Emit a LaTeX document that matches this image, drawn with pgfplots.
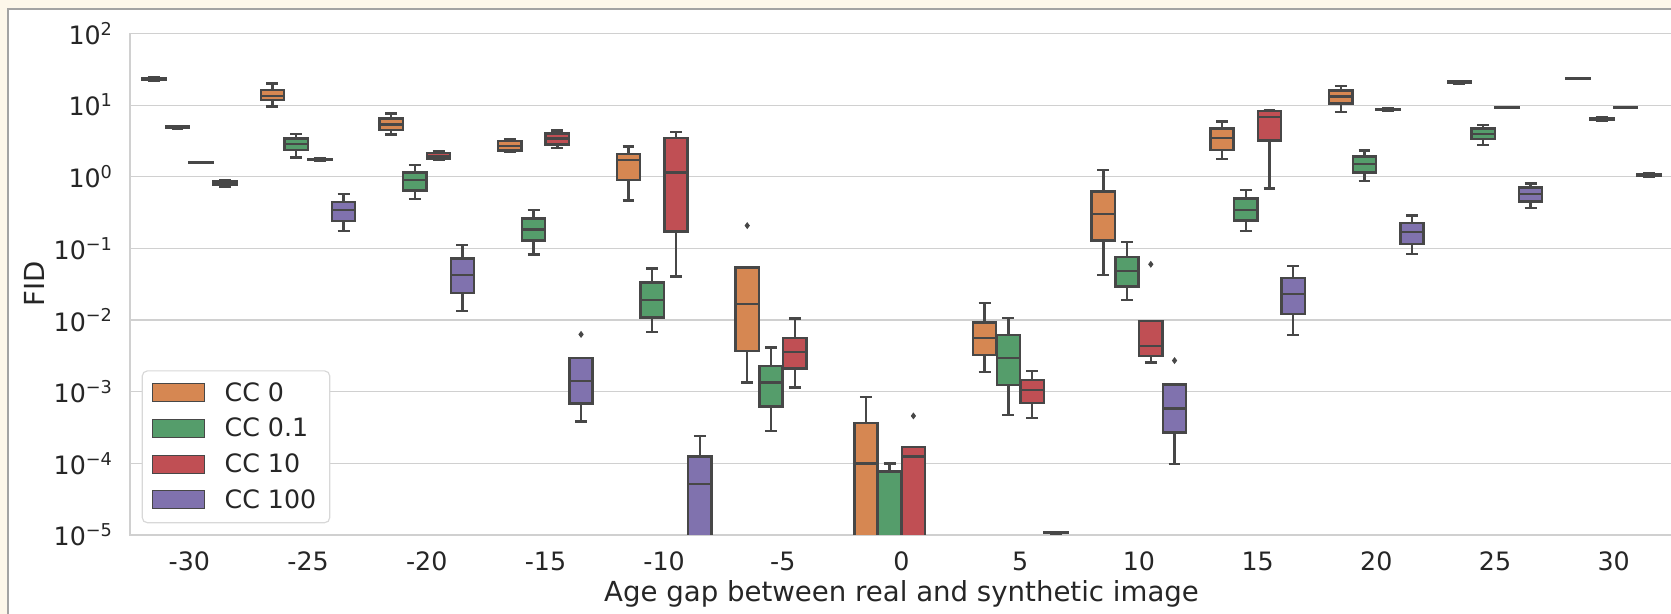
\documentclass[border=0pt]{standalone}
\usepackage{fontspec}
\setmainfont{DejaVu Sans}
\usepackage{pgfplots}
\pgfplotsset{compat=1.18}

\definecolor{cO}{HTML}{D68752}
\definecolor{cG}{HTML}{559D6B}
\definecolor{cR}{HTML}{C04F54}
\definecolor{cP}{HTML}{8072AE}
\definecolor{linec}{HTML}{474747}
\definecolor{gridc}{HTML}{D0D0D0}
\definecolor{textc}{HTML}{262626}
\definecolor{cream}{HTML}{FDF7EA}
\definecolor{framec}{HTML}{A3A3A3}
\definecolor{legc}{HTML}{D8D8D8}

\pgfplotsset{whisk/.style={draw=linec, line width=1.05pt, forget plot, line join=miter}}

% #1 position, #2 colour, #3 lower whisker, #4 Q1, #5 median, #6 Q3, #7 upper whisker
\newcommand{\bx}[7]{%
  \pgfmathsetmacro{\xa}{#1-0.098}%
  \pgfmathsetmacro{\xb}{#1+0.098}%
  \pgfmathsetmacro{\ca}{#1-0.05}%
  \pgfmathsetmacro{\cb}{#1+0.05}%
  \addplot[whisk] coordinates {(#1,#3) (#1,#4)};
  \addplot[whisk] coordinates {(#1,#6) (#1,#7)};
  \addplot[whisk] coordinates {(\ca,#3) (\cb,#3)};
  \addplot[whisk] coordinates {(\ca,#7) (\cb,#7)};
  \addplot[whisk, fill=#2] coordinates {(\xa,#4) (\xb,#4) (\xb,#6) (\xa,#6)} -- cycle;
  \addplot[whisk] coordinates {(\xa,#5) (\xb,#5)};
}
\newcommand{\fl}[2]{%
  \addplot[only marks, mark=diamond*, mark size=1.2pt, color=linec, forget plot] coordinates {(#1,#2)};
}

\begin{document}
\begin{tikzpicture}
\useasboundingbox (-56.52pt,-34.35pt) rectangle (670.0pt,232.6pt);
\clip (-56.52pt,-34.35pt) rectangle (670.0pt,232.6pt);
\fill[cream] (-56.52pt,-34.35pt) rectangle (670.0pt,232.6pt);
\fill[white] (-52.9pt,-40pt) rectangle (680pt,228.6pt);
\draw[framec, line width=0.87pt] (-52.9pt,-40pt) -- (-52.9pt,228.6pt) -- (680pt,228.6pt);
\begin{axis}[
  at={(0pt,0pt)}, anchor=south west,
  scale only axis, width=670.9pt, height=218.05pt,
  xmin=-0.5, xmax=12.5,
  ymode=log, ymin=1e-5, ymax=1e2,
  xtick={0,...,12},
  xticklabels={-30,-25,-20,-15,-10,-5,0,5,10,15,20,25,30},
  ytick={1e-5,1e-4,1e-3,1e-2,1e-1,1,10,100},
  yticklabels={10\textsuperscript{−5},10\textsuperscript{−4},10\textsuperscript{−3},10\textsuperscript{−2},10\textsuperscript{−1},10\textsuperscript{0},10\textsuperscript{1},10\textsuperscript{2}},
  minor ytick={},
  major tick length=0pt, minor tick length=0pt,
  ymajorgrids=true, yminorgrids=false, xmajorgrids=false,
  grid style={draw=gridc, line width=0.5pt},
  axis line style={draw=gridc, line width=0.6pt},
  tick label style={font=\fontsize{11}{13}\selectfont, text=textc},
  xticklabel style={anchor=north, inner sep=0pt, yshift=-7.26pt},
  yticklabel style={anchor=east, inner sep=0pt, xshift=-7.13pt},
  label style={font=\fontsize{12}{14}\selectfont, text=textc},
  xlabel={Age gap between real and synthetic image},
  xlabel style={at={(axis description cs:0.5,0)}, anchor=north, inner sep=0pt, yshift=-19.6pt},
  ylabel={FID},
  ylabel style={at={(axis description cs:-0.0551,0.5)}, anchor=south, inner sep=0pt},
  legend cell align=left,
  legend style={
    at={(0.00758,0.0233)}, anchor=south west,
    draw=legc, line width=0.5pt, fill=white, rounded corners=2.2pt,
    font=\fontsize{11}{13}\selectfont, text=textc,
    inner xsep=4.35pt, inner ysep=2pt, row sep=0pt,
    nodes={inner xsep=1.5pt, inner ysep=3pt, text height=8.2pt, text depth=1.3pt},
    /tikz/every odd column/.append style={column sep=6.9pt},
  },
]
\addlegendimage{legend image code/.code={\draw[fill=cO, draw=linec, line width=0.45pt, sharp corners] (0pt,-3.7pt) rectangle (22.6pt,4.1pt);}}
\addlegendentry{CC 0}
\addlegendimage{legend image code/.code={\draw[fill=cG, draw=linec, line width=0.45pt, sharp corners] (0pt,-3.7pt) rectangle (22.6pt,4.1pt);}}
\addlegendentry{CC 0.1}
\addlegendimage{legend image code/.code={\draw[fill=cR, draw=linec, line width=0.45pt, sharp corners] (0pt,-3.7pt) rectangle (22.6pt,4.1pt);}}
\addlegendentry{CC 10}
\addlegendimage{legend image code/.code={\draw[fill=cP, draw=linec, line width=0.45pt, sharp corners] (0pt,-3.7pt) rectangle (22.6pt,4.1pt);}}
\addlegendentry{CC 100}

% -30
\bx{-0.3}{cO}{22.0}{22.6}{23.1}{23.6}{24.2}
\bx{-0.1}{cG}{4.70}{4.82}{4.93}{5.05}{5.15}
\bx{0.1}{cR}{1.58}{1.59}{1.60}{1.61}{1.62}
\bx{0.3}{cP}{0.73}{0.77}{0.81}{0.86}{0.90}
% -25
\bx{0.7}{cO}{9.6}{11.8}{13.5}{16.2}{20.0}
\bx{0.9}{cG}{1.86}{2.38}{2.87}{3.41}{3.97}
\bx{1.1}{cR}{1.68}{1.71}{1.74}{1.77}{1.80}
\bx{1.3}{cP}{0.174}{0.239}{0.346}{0.447}{0.57}
% -20
\bx{1.7}{cO}{3.89}{4.48}{5.38}{6.47}{7.62}
\bx{1.9}{cG}{0.486}{0.64}{0.90}{1.15}{1.46}
\bx{2.1}{cR}{1.72}{1.80}{1.96}{2.14}{2.26}
\bx{2.3}{cP}{0.0133}{0.0237}{0.0422}{0.0726}{0.112}
% -15
\bx{2.7}{cO}{2.25}{2.33}{2.71}{3.13}{3.30}
\bx{2.9}{cG}{0.0826}{0.129}{0.183}{0.260}{0.346}
\bx{3.1}{cR}{2.52}{2.81}{3.41}{4.02}{4.43}
\bx{3.3}{cP}{3.83e-4}{6.8e-4}{1.41e-3}{2.93e-3}{2.93e-3}
\fl{3.3}{6.3e-3}
% -10
\bx{3.7}{cO}{0.466}{0.90}{1.72}{2.09}{2.66}
\bx{3.9}{cG}{6.86e-3}{0.0109}{0.0191}{0.0333}{0.0523}
\bx{4.1}{cR}{0.0406}{0.172}{1.14}{3.49}{4.20}
\bx{4.3}{cP}{2e-6}{5e-6}{5.1e-5}{1.25e-4}{2.41e-4}
% -5
\bx{4.7}{cO}{1.34e-3}{3.72e-3}{0.0167}{0.0539}{0.0539}
\fl{4.7}{0.208}
\bx{4.9}{cG}{2.84e-4}{6.19e-4}{1.34e-3}{2.29e-3}{4.14e-3}
\bx{5.1}{cR}{1.14e-3}{2.12e-3}{3.60e-3}{5.60e-3}{0.01054}
% 0
\bx{5.7}{cO}{1e-6}{2e-6}{1.0e-4}{3.63e-4}{8.43e-4}
\bx{5.9}{cG}{1e-6}{2e-6}{7.5e-5}{7.7e-5}{1.0e-4}
\bx{6.1}{cR}{1e-6}{2e-6}{1.25e-4}{1.70e-4}{1.70e-4}
\fl{6.1}{4.59e-4}
% 5
\bx{6.7}{cO}{1.89e-3}{3.23e-3}{5.60e-3}{9.18e-3}{0.01741}
\bx{6.9}{cG}{4.69e-4}{1.24e-3}{2.93e-3}{6.22e-3}{0.01066}
\bx{7.1}{cR}{4.26e-4}{6.89e-4}{1.05e-3}{1.46e-3}{1.95e-3}
\bx{7.3}{cP}{1.05e-5}{1.06e-5}{1.07e-5}{1.08e-5}{1.09e-5}
% 10
\bx{7.7}{cO}{0.0422}{0.129}{0.301}{0.621}{1.24}
\bx{7.9}{cG}{0.0191}{0.0294}{0.0485}{0.0759}{0.1225}
\bx{8.1}{cR}{2.55e-3}{3.16e-3}{4.37e-3}{9.68e-3}{9.68e-3}
\fl{8.1}{0.060}
\bx{8.3}{cP}{9.8e-5}{2.7e-4}{5.81e-4}{1.26e-3}{1.26e-3}
\fl{8.3}{2.72e-3}
% 15
\bx{8.7}{cO}{1.76}{2.38}{3.45}{4.73}{5.94}
\bx{8.9}{cG}{0.175}{0.244}{0.346}{0.497}{0.655}
\bx{9.1}{cR}{0.690}{3.20}{6.84}{8.32}{8.59}
\bx{9.3}{cP}{6.17e-3}{0.0121}{0.0230}{0.0387}{0.0569}
% 20
\bx{9.7}{cO}{7.96}{10.5}{13.2}{16.1}{18.5}
\bx{9.9}{cG}{0.871}{1.15}{1.51}{1.92}{2.31}
\bx{10.1}{cR}{8.3}{8.5}{8.69}{8.85}{9.05}
\bx{10.3}{cP}{0.0834}{0.116}{0.168}{0.227}{0.286}
% 25
\bx{10.7}{cO}{20.0}{20.4}{20.9}{21.4}{21.8}
\bx{10.9}{cG}{2.78}{3.38}{3.97}{4.73}{5.32}
\bx{11.1}{cR}{9.15}{9.2}{9.27}{9.33}{9.4}
\bx{11.3}{cP}{0.365}{0.451}{0.571}{0.712}{0.80}
% 30
\bx{11.7}{cO}{23.4}{23.5}{23.6}{23.7}{23.8}
\bx{11.9}{cG}{6.0}{6.15}{6.34}{6.5}{6.7}
\bx{12.1}{cR}{9.15}{9.2}{9.27}{9.33}{9.4}
\bx{12.3}{cP}{1.0}{1.03}{1.056}{1.08}{1.11}
\end{axis}
\end{tikzpicture}
\end{document}
